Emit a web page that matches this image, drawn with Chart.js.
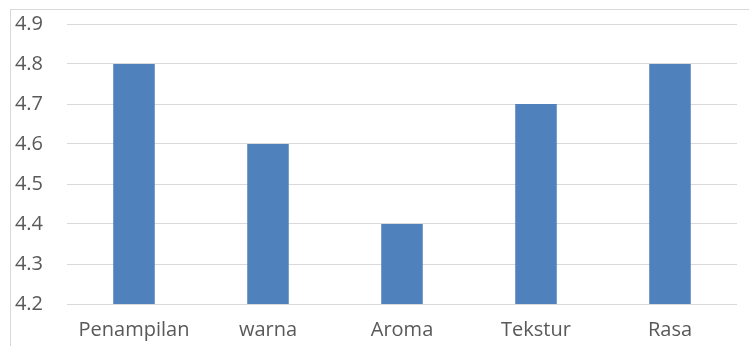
<!DOCTYPE html>
<html>
<head>
<meta charset="utf-8">
<script src="https://cdn.jsdelivr.net/npm/chart.js@4/dist/chart.umd.min.js"></script>
<style>
  html, body { margin: 0; padding: 0; background: #fff; }
  #wrap { position: relative; width: 749px; height: 346px; overflow: hidden; }
  #frame { position: absolute; left: 10px; top: 9px; width: 800px; height: 400px;
           border-left: 1px solid #d9d9d9; border-top: 1px solid #d9d9d9; }
  canvas { position: absolute; left: 0; top: -12px; }
</style>
</head>
<body>
<div id="wrap">
  <div id="frame"></div>
  <canvas id="chart" width="749" height="358"></canvas>
</div>
<script>
let labels = ["Penampilan", "warna", "Aroma", "Tekstur", "Rasa"];
let scores = [4.8, 4.6, 4.4, 4.7, 4.8];
let yMin = 4.2;
let yMax = 4.9;
let yStep = 0.1;

let ctx = document.getElementById("chart").getContext("2d");
let chart = new Chart(ctx, {
    type: "bar",
    data: {
        labels: labels,
        datasets: [{
            data: scores,
            backgroundColor: "#4f81bd",
            categoryPercentage: 1,
            barPercentage: 0.31
        }]
    },
    options: {
        responsive: false,
        animation: false,
        layout: { padding: { top: 12, right: 12, left: 0, bottom: 0 } },
        plugins: { legend: { display: false }, tooltip: { enabled: false } },
        scales: {
            x: {
                grid: { display: false },
                border: { display: false },
                ticks: { color: "#595959", font: { family: "Open Sans", size: 20 }, padding: 6, maxRotation: 0 },
                afterFit: function (s) { s.height = 42; }
            },
            y: {
                min: yMin,
                max: yMax,
                grid: { color: "#d9d9d9", lineWidth: 1, drawTicks: false },
                border: { display: false },
                ticks: {
                    stepSize: yStep,
                    color: "#595959",
                    font: { family: "Open Sans", size: 20 },
                    padding: 24,
                    callback: function (v) { return v.toFixed(1); }
                },
                afterFit: function (s) { s.width = 67; }
            }
        }
    }
});
</script>
</body>
</html>
